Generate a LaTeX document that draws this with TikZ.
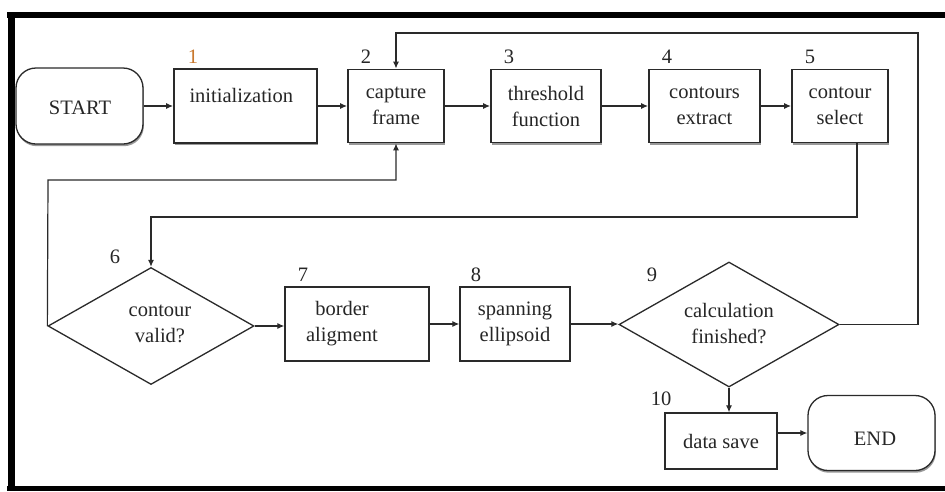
\documentclass[tikz,border=0pt]{standalone}
\usepackage{fontspec}
\setmainfont{Liberation Serif}
\usetikzlibrary{arrows.meta,shapes.geometric,shadows}
\definecolor{ln}{HTML}{2A2A2A}
\definecolor{orangenum}{HTML}{C8782E}
\begin{document}
\begin{tikzpicture}[x=1pt,y=-1pt,
  every node/.style={font=\fontsize{20.5}{26}\selectfont, text=black!85, align=center},
  topbox/.style={draw=ln, line width=1.8pt, fill=white, inner sep=0pt,
     drop shadow={shadow xshift=1.2pt, shadow yshift=-2.4pt, fill=gray!80, opacity=1}},
  lowbox/.style={draw=ln, line width=1.3pt, fill=white, inner sep=0pt},
  term/.style={draw=ln, line width=1.3pt, fill=white, rounded corners=20pt, inner sep=0pt,
     drop shadow={shadow xshift=0.8pt, shadow yshift=-2.2pt, fill=gray!80, opacity=1}},
  dia/.style={draw=ln, line width=1.3pt, diamond, inner sep=0pt, fill=white},
  num/.style={inner sep=0pt},
  arr/.style={draw=ln, line width=1.2pt, -{Latex[length=7pt,width=6pt]}},
  frame/.style={line width=6pt, black}
]
\useasboundingbox (0,0) rectangle (945,491);
\fill[white] (0,0) rectangle (945,491);

% top row
\node[term, minimum width=127pt, minimum height=76pt] (start) at (79.5,106) {};
\node at (80,108) {START};
\node[topbox, minimum width=143pt, minimum height=74pt] (init) at (245.5,106) {};
\node[anchor=west] at (186,95) {initialization};
\node[topbox, minimum width=96pt, minimum height=73pt] (cap) at (396,106) {capture\\frame};
\node[topbox, minimum width=110pt, minimum height=73pt] (thr) at (546,106) {threshold\\function};
\node[topbox, minimum width=111pt, minimum height=73pt] (con) at (704.5,106) {contours\\extract};
\node[topbox, minimum width=96pt, minimum height=73pt] (sel) at (840,106) {contour\\select};

% second row
\node[dia, minimum width=206pt, minimum height=117pt] (d6) at (151,326) {};
\node at (160,323.5) {contour\\valid?};
\node[lowbox, minimum width=144pt, minimum height=74pt] (bord) at (357,324) {};
\node at (342,324) {border\\aligment};
\node[lowbox, minimum width=110pt, minimum height=74pt] (span) at (515,324) {spanning\\ellipsoid};
\node[dia, minimum width=220pt, minimum height=125pt] (d9) at (729,324.5) {};
\node at (729,324) {calculation\\finished?};
\node[lowbox, minimum width=112pt, minimum height=56pt] (save) at (721,441) {data save};
\node[term, minimum width=127pt, minimum height=75pt] (end) at (871.5,433) {};
\node at (875,439) {END};

% numbers
\node[num, text=orangenum] at (193,57) {1};
\node[num] at (366,57) {2};
\node[num] at (509,57) {3};
\node[num] at (667,57) {4};
\node[num] at (810,57) {5};
\node[num] at (115,257) {6};
\node[num] at (303,275) {7};
\node[num] at (476,275) {8};
\node[num] at (652,275) {9};
\node[num] at (661,399) {10};

% connectors
\draw[arr] (start.east) -- (init.west);
\draw[arr] (init.east) -- (cap.west);
\draw[arr] (cap.east) -- (thr.west);
\draw[arr] (thr.east) -- (con.west);
\draw[arr] (con.east) -- (sel.west);
\coordinate (k1) at (857,217);
\draw[arr] ([xshift=17pt]sel.south) -- (k1) -| (d6.north);
\coordinate (k2) at (48,180);
\draw[arr] (d6.west) -- (k2) -| (cap.south);
\draw[arr] (d6.east) -- (d6.east -| bord.west);
\draw[arr] (bord.east) -- (span.west);
\draw[arr] (span.east) -- (span.east -| d9.west);
\coordinate (k3) at (918,33);
\draw[arr] (d9.east) -| (k3) -| (cap.north);
\draw[arr] (d9.south) -- (d9.south |- save.north);
\draw[arr] (save.east |- end.west) -- (end.west);

% outer frame
\draw[frame] (7,15) -- (945,15);
\draw[line width=7pt] (11,12) -- (11,491);
\draw[line width=5pt] (7,488.5) -- (945,488.5);
\end{tikzpicture}
\end{document}
